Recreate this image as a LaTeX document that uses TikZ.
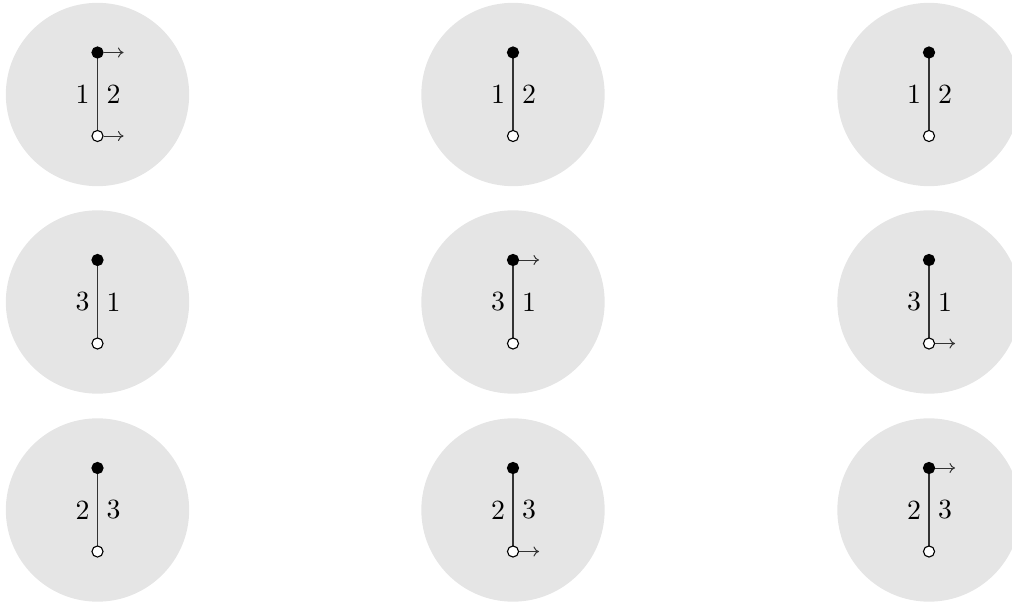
\documentclass[tikz,border=0pt]{standalone}
\usetikzlibrary{arrows.meta}
\begin{document}
\begin{tikzpicture}[x=0.36pt,y=-0.36pt,
  disc/.style={circle,fill=black!10,minimum size=66pt,inner sep=0pt},
  fdot/.style={circle,fill=black,draw=black,line width=0.4pt,minimum size=4pt,inner sep=0pt},
  odot/.style={circle,fill=white,draw=black,line width=0.4pt,minimum size=4pt,inner sep=0pt},
  seg/.style={draw=black!80,line width=0.4pt},
  arr/.style={draw=black!80,line width=0.35pt,-{To[length=2pt,width=3.6pt]}},
  lab/.style={inner sep=0pt}]
\useasboundingbox (0,0) rectangle (1012,602);
\foreach \cx/\cy/\l/\r/\n in {97.5/94.5/1/2/a, 513/94.5/1/2/b, 929/94.5/1/2/c,
                              97.5/302/3/1/d, 513/302/3/1/e, 929/302/3/1/f,
                              97.5/510/2/3/g, 513/510/2/3/h, 929/510/2/3/i}{
  \node[disc] (\n) at (\cx,\cy) {};
  \node[lab] (\n l) at (\cx-15,\cy) {\l};
  \node[lab] (\n r) at (\cx+16,\cy) {\r};
  \coordinate (\n t) at (\cx,\cy-42);
  \coordinate (\n b) at (\cx,\cy+41.5);
  \coordinate (\n ta) at (\cx+26,\cy-42);
  \coordinate (\n ba) at (\cx+26,\cy+41.5);
  \draw[seg] (\n t) -- (\n b);
  \node[fdot] (\n T) at (\n t) {};
  \node[odot] (\n B) at (\n b) {};
}
\draw[arr] (aT.east) -- (ata);
\draw[arr] (aB.east) -- (aba);
\draw[arr] (eT.east) -- (eta);
\draw[arr] (fB.east) -- (fba);
\draw[arr] (hB.east) -- (hba);
\draw[arr] (iT.east) -- (ita);
\end{tikzpicture}
\end{document}
